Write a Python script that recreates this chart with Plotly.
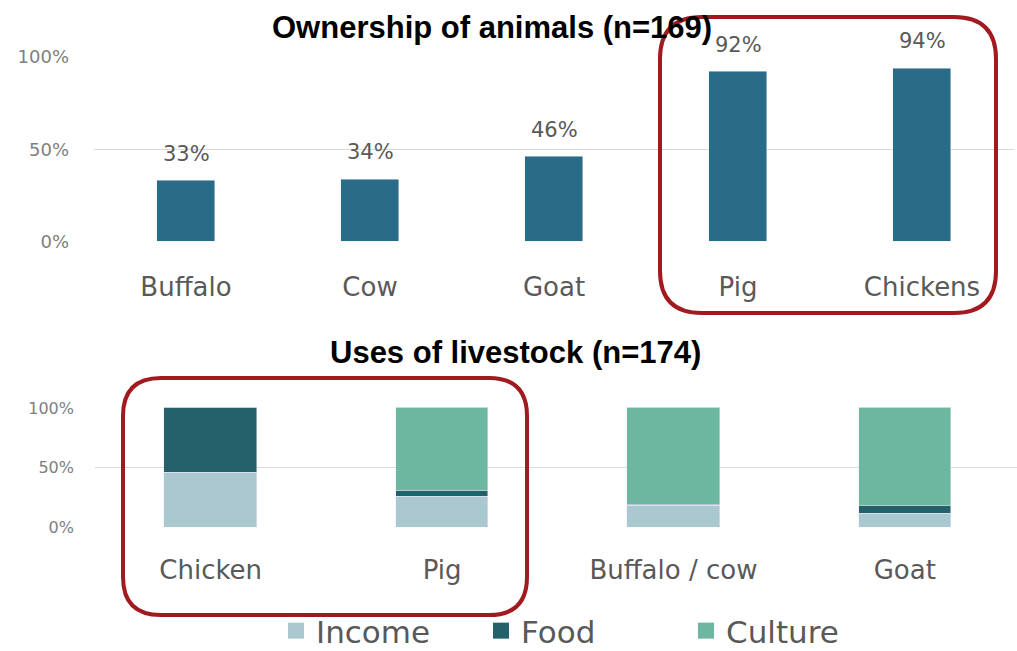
import plotly.graph_objects as go

W, H = 1017, 651

# ---- data ----
own_categories = ["Buffalo", "Cow", "Goat", "Pig", "Chickens"]
own_values = [33, 34, 46, 92, 94]

use_categories = ["Chicken", "Pig", "Buffalo / cow", "Goat"]
income = [46, 26, 18, 11.5]
food = [54, 5, 1, 6.5]
culture = [0, 69, 81, 82]

tick_vals = [0, 50, 100]
tick_text = ["0%", "50%", "100%"]

# ---- styles ----
FONT = "DejaVu Sans"
C_TOP = "#2a6c87"
C_INCOME = "#abc8d0"
C_FOOD = "#25616a"
C_CULTURE = "#6db7a0"
GRID = "#d9d9d9"
RED = "#a01a1f"

def px(x):
    return x / W

def py(y):
    return 1 - y / H

fig = go.Figure()

fig.add_trace(go.Bar(x=own_categories, y=own_values, marker_color=C_TOP,
                     width=0.31, xaxis="x", yaxis="y", showlegend=False,
                     hoverinfo="x+y"))

for name, vals, col in [("Income", income, C_INCOME), ("Food", food, C_FOOD),
                        ("Culture", culture, C_CULTURE)]:
    fig.add_trace(go.Bar(x=use_categories, y=vals, name=name, marker_color=col,
                         width=0.40, xaxis="x2", yaxis="y2", showlegend=False))
    # legend proxy
    fig.add_trace(go.Scatter(x=[None], y=[None], mode="markers", name=name,
                             marker=dict(symbol="square", size=16, color=col),
                             xaxis="x2", yaxis="y2", showlegend=True))

annotations = []
for c, v in zip(own_categories, own_values):
    annotations.append(dict(x=c, y=v, xref="x", yref="y", text=f"{v}%",
                            showarrow=False, yshift=27, yanchor="middle",
                            font=dict(family=FONT, size=21, color="#595959")))

annotations.append(dict(x=px(492), y=py(27), xref="paper", yref="paper",
                        text="<b>Ownership of animals (n=169)</b>", showarrow=False,
                        xanchor="center", yanchor="middle",
                        font=dict(family="Liberation Sans", size=31, color="#000000")))
annotations.append(dict(x=px(515), y=py(352), xref="paper", yref="paper",
                        text="<b>Uses of livestock (n=174)</b>", showarrow=False,
                        xanchor="center", yanchor="middle",
                        font=dict(family="Liberation Sans", size=31, color="#000000")))

def rounded_path(x0, y0, x1, y1, r):
    X0, X1 = px(x0), px(x1)
    Y0, Y1 = py(y0), py(y1)
    rx, ry = r / W, r / H
    return (f"M {X0+rx},{Y0} L {X1-rx},{Y0} Q {X1},{Y0} {X1},{Y0-ry} "
            f"L {X1},{Y1+ry} Q {X1},{Y1} {X1-rx},{Y1} "
            f"L {X0+rx},{Y1} Q {X0},{Y1} {X0},{Y1+ry} "
            f"L {X0},{Y0-ry} Q {X0},{Y0} {X0+rx},{Y0} Z")

shapes = [
    dict(type="path", xref="paper", yref="paper", layer="above",
         path=rounded_path(660, 17, 996, 313, 42), line=dict(color=RED, width=4)),
    dict(type="path", xref="paper", yref="paper", layer="above",
         path=rounded_path(123, 378, 527, 615, 38), line=dict(color=RED, width=4)),
]

fig.update_layout(
    width=W, height=H,
    margin=dict(l=0, r=0, t=0, b=0, autoexpand=False),
    paper_bgcolor="white", plot_bgcolor="white",
    barmode="stack",
    bargap=0,
    font=dict(family=FONT, color="#595959"),
    xaxis=dict(domain=[px(94), px(1014)], anchor="y", type="category",
               showgrid=False, zeroline=False, showline=False, ticks="",
               tickfont=dict(family=FONT, size=26, color="#595959"),
               ticklabelstandoff=26, automargin=False),
    yaxis=dict(domain=[py(242.5), py(56.5)], anchor="x", range=[-0.3, 100.3],
               tickvals=tick_vals, ticktext=tick_text, showgrid=True,
               gridcolor=GRID, gridwidth=1, zeroline=False, showline=False,
               ticks="", tickfont=dict(family=FONT, size=18, color="#808080"),
               ticklabelstandoff=24, automargin=False),
    xaxis2=dict(domain=[px(95), 1], anchor="y2", type="category",
                range=[-0.5, 3.485],
                showgrid=False, zeroline=False, showline=False, ticks="",
                tickfont=dict(family=FONT, size=26, color="#595959"),
                ticklabelstandoff=24, automargin=False),
    yaxis2=dict(domain=[py(527.5), py(407.5)], anchor="x2", range=[-0.4, 100.4],
                tickvals=tick_vals, ticktext=tick_text, showgrid=True,
                gridcolor=GRID, gridwidth=1, zeroline=False, showline=False,
                ticks="", tickfont=dict(family=FONT, size=16, color="#808080"),
                ticklabelstandoff=20, automargin=False),
    legend=dict(orientation="h", x=px(276), y=py(631), xanchor="left",
                yanchor="middle", font=dict(family=FONT, size=31, color="#595959"),
                itemsizing="trace", entrywidth=160, entrywidthmode="pixels",
                bgcolor="rgba(0,0,0,0)", traceorder="normal"),
    annotations=annotations,
    shapes=shapes,
)

fig.write_html("out.html")
